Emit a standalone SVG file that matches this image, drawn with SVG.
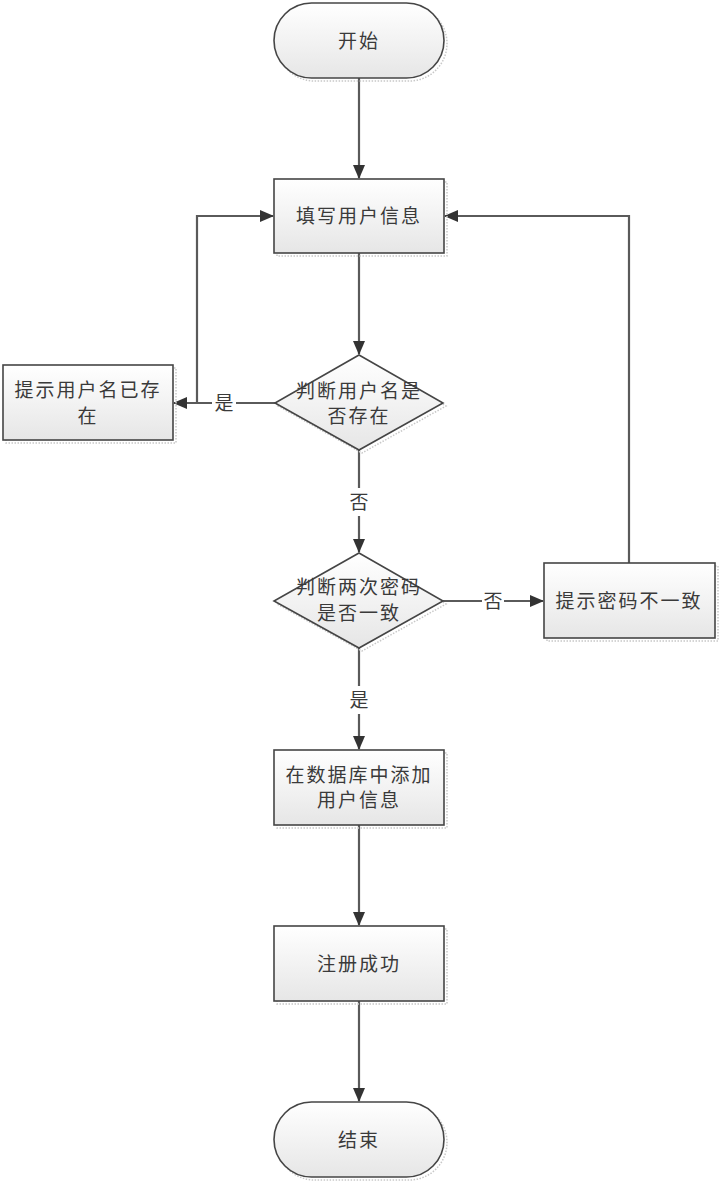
<svg xmlns="http://www.w3.org/2000/svg" width="720" height="1183" viewBox="0 0 720 1183">
<style>
.shape{fill:url(#g);stroke:#454545;stroke-width:1.6}
.shadow{fill:none;stroke:#c8c8c8;stroke-width:1.5;stroke-dasharray:1.5 1.5}
.t{font-family:"Liberation Serif","Noto Sans CJK SC",serif;font-size:19px;fill:#3a3a3a;text-anchor:middle;dominant-baseline:central;letter-spacing:2px}
.conn{fill:none;stroke:#5a5a5a;stroke-width:2.2}
.lbl{font-family:"Liberation Serif","Noto Sans CJK SC",serif;font-size:19px;fill:#3a3a3a;text-anchor:middle;dominant-baseline:central}
.lblbg{fill:#fff}
</style>
<defs>
<linearGradient id="g" x1="0" y1="0" x2="0" y2="1">
<stop offset="0" stop-color="#ffffff"/>
<stop offset="1" stop-color="#e6e6e6"/>
</linearGradient>
<marker id="arr" markerWidth="14" markerHeight="12" refX="13" refY="6" orient="auto" markerUnits="userSpaceOnUse">
<path d="M0,0 L14,6 L0,12 Z" fill="#333"/>
</marker>
</defs>
<rect width="720" height="1183" fill="#fff"/>
<g id="connectors">
<path class="conn" d="M359,78 V178" marker-end="url(#arr)"/>
<path class="conn" d="M359,253 V354" marker-end="url(#arr)"/>
<path class="conn" d="M275,403 H174" marker-end="url(#arr)"/>
<path class="conn" d="M197,403 V216 H273" marker-end="url(#arr)"/>
<path class="conn" d="M359,450 V552" marker-end="url(#arr)"/>
<path class="conn" d="M443,601 H543" marker-end="url(#arr)"/>
<path class="conn" d="M629,563 V216 H445" marker-end="url(#arr)"/>
<path class="conn" d="M359,648 V749" marker-end="url(#arr)"/>
<path class="conn" d="M359,825 V925" marker-end="url(#arr)"/>
<path class="conn" d="M359,1001 V1101" marker-end="url(#arr)"/>
<rect class="lblbg" x="212" y="392" width="24" height="22"/>
<text class="lbl" x="224" y="403">是</text>
<rect class="lblbg" x="348" y="488" width="22" height="28"/>
<text class="lbl" x="359" y="502">否</text>
<rect class="lblbg" x="482" y="590" width="22" height="22"/>
<text class="lbl" x="493" y="601">否</text>
<rect class="lblbg" x="348" y="686" width="22" height="28"/>
<text class="lbl" x="359" y="700">是</text>
</g>
<g id="start">
<rect class="shadow" x="277" y="6" width="170" height="75" rx="37.5"/>
<rect class="shape" x="274" y="3" width="170" height="75" rx="37.5"/>
<text class="t" x="359" y="41">开始</text>
</g>
<g id="fill-info">
<rect class="shadow" x="277" y="182" width="170" height="74"/>
<rect class="shape" x="274" y="179" width="170" height="74"/>
<text class="t" x="359" y="216">填写用户信息</text>
</g>
<g id="check-username">
<path class="shadow" d="M362,358 L446,406 L362,453 L278,406 Z"/>
<path class="shape" d="M359,355 L443,403 L359,450 L275,403 Z"/>
<text class="t" x="359" y="391">判断用户名是</text>
<text class="t" x="359" y="416">否存在</text>
</g>
<g id="username-exists">
<rect class="shadow" x="6" y="368" width="170" height="75"/>
<rect class="shape" x="3" y="365" width="170" height="75"/>
<text class="t" x="88" y="390">提示用户名已存</text>
<text class="t" x="88" y="416">在</text>
</g>
<g id="check-password">
<path class="shadow" d="M362,556 L446,604 L362,651 L277,604 Z"/>
<path class="shape" d="M359,553 L443,601 L359,648 L274,601 Z"/>
<text class="t" x="359" y="587">判断两次密码</text>
<text class="t" x="359" y="613">是否一致</text>
</g>
<g id="password-mismatch">
<rect class="shadow" x="547" y="566" width="171" height="75"/>
<rect class="shape" x="544" y="563" width="171" height="75"/>
<text class="t" x="629" y="601">提示密码不一致</text>
</g>
<g id="add-user">
<rect class="shadow" x="277" y="753" width="170" height="75"/>
<rect class="shape" x="274" y="750" width="170" height="75"/>
<text class="t" x="359" y="775">在数据库中添加</text>
<text class="t" x="359" y="800">用户信息</text>
</g>
<g id="register-ok">
<rect class="shadow" x="277" y="929" width="170" height="75"/>
<rect class="shape" x="274" y="926" width="170" height="75"/>
<text class="t" x="359" y="964">注册成功</text>
</g>
<g id="end">
<rect class="shadow" x="277" y="1105" width="170" height="75" rx="37.5"/>
<rect class="shape" x="274" y="1102" width="170" height="75" rx="37.5"/>
<text class="t" x="359" y="1140">结束</text>
</g>
</svg>
